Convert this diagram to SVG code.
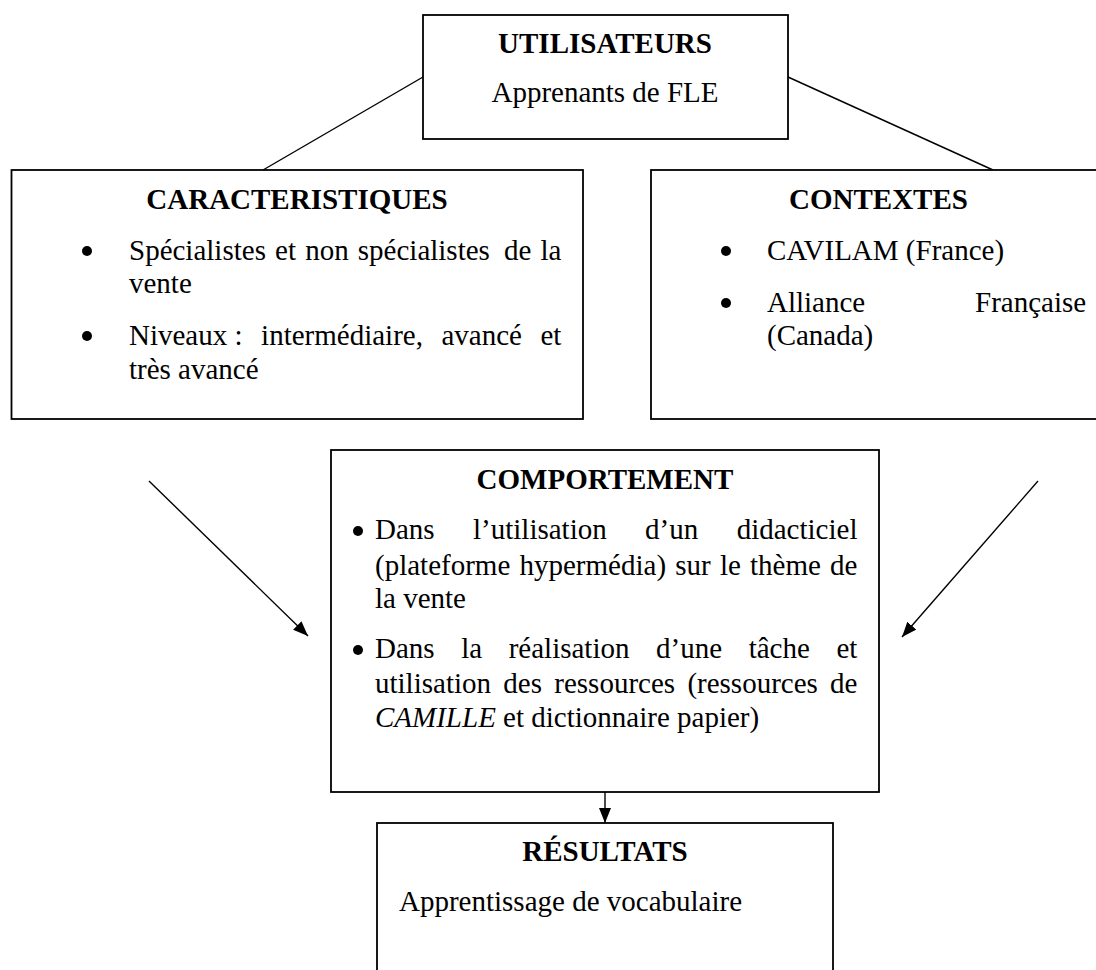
<svg xmlns="http://www.w3.org/2000/svg" width="1096" height="970" viewBox="0 0 1096 970">
<style>
  text { font-family: "Liberation Serif", "Times New Roman", serif; font-size: 29px; fill: #000; }
  .h { font-weight: bold; text-anchor: middle; }
  .c { text-anchor: middle; }
  .box { fill: #fff; stroke: #000; stroke-width: 1.8; }
  .ln { stroke: #000; stroke-width: 1.4; fill: none; }
  .bul { fill: #000; }
</style>
<defs>
  <marker id="ah" markerWidth="15" markerHeight="12" refX="15" refY="6" orient="auto" markerUnits="userSpaceOnUse">
    <path d="M0,0 L15,6 L0,12 z" fill="#000"/>
  </marker>
</defs>
<rect x="0" y="0" width="1096" height="970" fill="#fff"/>

<g id="connectors">
  <line class="ln" x1="423" y1="77" x2="263" y2="170"/>
  <line class="ln" x1="788" y1="77" x2="993" y2="170"/>
  <line class="ln" x1="149" y1="481" x2="308" y2="636" marker-end="url(#ah)"/>
  <line class="ln" x1="1038" y1="481" x2="902" y2="637" marker-end="url(#ah)"/>
  <line class="ln" x1="605" y1="792" x2="605" y2="823" marker-end="url(#ah)"/>
</g>

<g id="utilisateurs">
  <rect class="box" x="423" y="15" width="365" height="124"/>
  <text class="h" x="605" y="53">UTILISATEURS</text>
  <text class="c" x="605" y="102">Apprenants de FLE</text>
</g>

<g id="caracteristiques">
  <rect class="box" x="11.5" y="170" width="571.5" height="249"/>
  <text class="h" x="297" y="209">CARACTERISTIQUES</text>
  <circle class="bul" cx="87" cy="251" r="5"/>
  <text y="260"><tspan x="129">Spécialistes</tspan><tspan x="275.1">et</tspan><tspan x="305.2">non</tspan><tspan x="357.8">spécialistes</tspan><tspan x="503.9">de</tspan><tspan x="540.4">la</tspan></text>
  <text x="129" y="293">vente</text>
  <circle class="bul" cx="87" cy="336" r="5"/>
  <text y="345"><tspan x="129">Niveaux :</tspan><tspan x="261.1">intermédiaire,</tspan><tspan x="441.5">avancé</tspan><tspan x="540.5">et</tspan></text>
  <text x="129" y="378.5">très avancé</text>
</g>

<g id="contextes">
  <rect class="box" x="651" y="170" width="455" height="249"/>
  <text class="h" x="878.5" y="209">CONTEXTES</text>
  <circle class="bul" cx="726" cy="251" r="5"/>
  <text x="767" y="260">CAVILAM (France)</text>
  <circle class="bul" cx="726" cy="303" r="5"/>
  <text y="312"><tspan x="767">Alliance</tspan><tspan x="975">Française</tspan></text>
  <text x="767" y="345">(Canada)</text>
</g>

<g id="comportement">
  <rect class="box" x="331" y="450" width="548" height="342"/>
  <text class="h" x="605" y="489">COMPORTEMENT</text>
  <circle class="bul" cx="358" cy="531" r="5"/>
  <text y="539"><tspan x="375">Dans</tspan><tspan x="473">l’utilisation</tspan><tspan x="645.1">d’un</tspan><tspan x="736.7">didacticiel</tspan></text>
  <text y="575"><tspan x="375">(plateforme</tspan><tspan x="519.5">hypermédia)</tspan><tspan x="675.3">sur</tspan><tspan x="719.9">le</tspan><tspan x="750">thème</tspan><tspan x="830.1">de</tspan></text>
  <text x="375" y="608">la vente</text>
  <circle class="bul" cx="358" cy="650" r="5"/>
  <text y="658"><tspan x="375">Dans</tspan><tspan x="461.2">la</tspan><tspan x="508.7">réalisation</tspan><tspan x="656.1">d’une</tspan><tspan x="748.7">tâche</tspan><tspan x="836.5">et</tspan></text>
  <text y="693"><tspan x="375">utilisation</tspan><tspan x="503.3">des</tspan><tspan x="554.3">ressources</tspan><tspan x="687.4">(ressources</tspan><tspan x="830.1">de</tspan></text>
  <text x="375" y="727"><tspan font-style="italic">CAMILLE</tspan> et dictionnaire papier)</text>
</g>

<g id="resultats">
  <rect class="box" x="377" y="823" width="456" height="170"/>
  <text class="h" x="605" y="861">RÉSULTATS</text>
  <text x="399" y="911">Apprentissage de vocabulaire</text>
</g>
</svg>
